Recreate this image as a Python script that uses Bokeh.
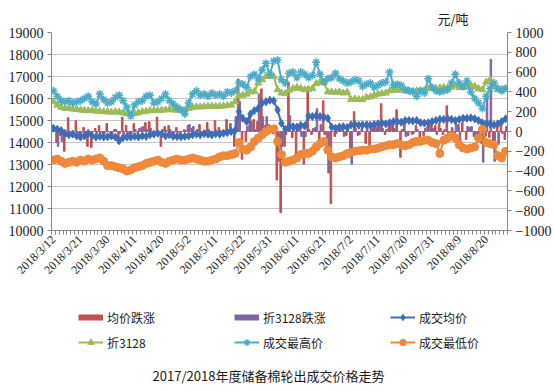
import math
from bokeh.plotting import figure
from bokeh.layouts import column
from bokeh.models import (Range1d, LinearAxis, FixedTicker, Legend, LegendItem,
                          Label, ColumnDataSource)
from bokeh.transform import dodge
from bokeh.embed import file_html
from bokeh.resources import INLINE

# ---------------- data ----------------
dates = [
    "2018/3/12", "2018/3/13", "2018/3/14", "2018/3/15", "2018/3/16", "2018/3/19", "2018/3/20", "2018/3/21",
    "2018/3/22", "2018/3/23", "2018/3/26", "2018/3/27", "2018/3/28", "2018/3/29", "2018/3/30",
    "2018/4/2", "2018/4/3", "2018/4/4", "2018/4/8", "2018/4/9", "2018/4/10", "2018/4/11", "2018/4/12",
    "2018/4/13", "2018/4/16", "2018/4/17", "2018/4/18", "2018/4/19", "2018/4/20", "2018/4/23", "2018/4/24",
    "2018/4/25", "2018/4/26", "2018/4/27", "2018/4/28",
    "2018/5/2", "2018/5/3", "2018/5/4", "2018/5/7", "2018/5/8", "2018/5/9", "2018/5/10", "2018/5/11",
    "2018/5/14", "2018/5/15", "2018/5/16", "2018/5/17", "2018/5/18", "2018/5/21", "2018/5/22", "2018/5/23",
    "2018/5/24", "2018/5/25", "2018/5/28", "2018/5/29", "2018/5/30", "2018/5/31",
    "2018/6/1", "2018/6/4", "2018/6/5", "2018/6/6", "2018/6/7", "2018/6/8", "2018/6/11", "2018/6/12",
    "2018/6/13", "2018/6/14", "2018/6/15", "2018/6/19", "2018/6/20", "2018/6/21", "2018/6/22", "2018/6/25",
    "2018/6/26", "2018/6/27", "2018/6/28", "2018/6/29",
    "2018/7/2", "2018/7/3", "2018/7/4", "2018/7/5", "2018/7/6", "2018/7/9", "2018/7/10", "2018/7/11",
    "2018/7/12", "2018/7/13", "2018/7/16", "2018/7/17", "2018/7/18", "2018/7/19", "2018/7/20", "2018/7/23",
    "2018/7/24", "2018/7/25", "2018/7/26", "2018/7/27", "2018/7/30", "2018/7/31",
    "2018/8/1", "2018/8/2", "2018/8/3", "2018/8/6", "2018/8/7", "2018/8/8", "2018/8/9", "2018/8/10",
    "2018/8/13", "2018/8/14", "2018/8/15", "2018/8/16", "2018/8/17", "2018/8/20", "2018/8/21", "2018/8/22",
    "2018/8/23", "2018/8/24", "2018/8/27",
]

tick_dates = ["2018/3/12", "2018/3/21", "2018/3/30", "2018/4/11", "2018/4/20", "2018/5/2",
              "2018/5/11", "2018/5/22", "2018/5/31", "2018/6/11", "2018/6/21", "2018/7/2",
              "2018/7/11", "2018/7/20", "2018/7/31", "2018/8/9", "2018/8/20"]

left_ticks = [10000, 11000, 12000, 13000, 14000, 15000, 16000, 17000, 18000, 19000]
right_ticks = [-1000, -800, -600, -400, -200, 0, 200, 400, 600, 800, 1000]

# 均价跌涨 (right axis)
avg_chg = [
    0, -110, -40, -200, 140, -30, 110, -60, 40, -150,
    -160, 30, 60, -20, 80, -40, 20, -120, 145, 60,
    -30, 80, -20, 40, 90, 100, -40, 145, -150, 50,
    60, -30, 40, -50, 20, 60, 30, -40, 70, -20,
    90, -60, 110, 40, -30, 120, 80, -150, 530, -280,
    -100, 180, 120, 100, 430, 60, 70, -20, -490, -820,
    -150, 500, -60, -260, 80, -330, 450, -30, 40, -100,
    310, -60, -730, -50, 60, 40, -40, -260, 200, -40,
    30, -120, -160, 60, 40, 280, -30, 60, 70, 220,
    -260, 120, -40, -30, 60, -120, -40, 50, 70, 60,
    80, -30, 260, -40, -60, 70, 90, -80, 40, -50,
    -100, -120, -50, -60, -90, 60, 110, -80,
]

# 折3128跌涨 (right axis)
p3128_chg = [
    0, -150, -100, -50, 0, -30, -20, -20, -30, 0,
    0, -20, -10, -20, 0, -20, 20, -20, -30, -30,
    -20, 20, 30, 50, 20, 30, 0, 0, 20, 10,
    20, -20, -10, 0, 10, 70, 50, 20, 0, 10,
    20, 0, -10, 10, 10, 20, 20, 150, 300, 0,
    50, 100, 20, 380, 150, 150, 20, -20, -300, -150,
    -30, 160, 70, 50, -50, -50, 20, 30, 230, 70,
    -30, -420, 0, -20, 20, -50, 30, -330, 30, -30,
    0, 100, 30, 70, 50, 30, 20, 100, 30, 0,
    20, -50, 0, -20, 20, 0, 30, 70, 30, -30,
    30, 20, -20, 40, 80, -100, 0, 50, 50, -50,
    -100, -310, 350, 730, -300, -130, -20, 50,
]

# 成交均价
avg_price = [
    14650, 14600, 14550, 14420, 14350, 14380, 14300, 14250, 14300, 14420,
    14300, 14250, 14280, 14250, 14260, 14300, 14250, 14080, 14220, 14250,
    14250, 14280, 14250, 14300, 14280, 14350, 14380, 14420, 14380, 14300,
    14350, 14280, 14270, 14260, 14280, 14300, 14350, 14380, 14350, 14400,
    14380, 14350, 14400, 14380, 14420, 14450, 14500, 14550, 15400, 15100,
    14950, 15300, 15450, 15550, 15800, 15850, 15920, 15900, 15480, 14870,
    14600, 14720, 14720, 14700, 14780, 14750, 15200, 15180, 15220, 15180,
    15150, 15100, 14700, 14650, 14700, 14720, 14680, 14800, 14820, 14780,
    14800, 14800, 14780, 14820, 14850, 14880, 14850, 14900, 14950, 14950,
    14920, 15000, 15000, 14980, 15000, 14900, 14880, 14900, 14950, 15000,
    15050, 15050, 15080, 15050, 15000, 15050, 15100, 15100, 15120, 15080,
    15000, 14900, 14850, 14850, 14800, 14850, 14950, 15080,
]

# 折3128
p3128 = [
    15850, 15700, 15600, 15550, 15550, 15520, 15500, 15480, 15450, 15450,
    15450, 15430, 15420, 15400, 15400, 15380, 15400, 15380, 15350, 15320,
    15300, 15320, 15350, 15400, 15420, 15450, 15450, 15450, 15470, 15480,
    15500, 15480, 15470, 15470, 15480, 15550, 15600, 15620, 15620, 15630,
    15650, 15650, 15640, 15650, 15660, 15680, 15700, 15850, 16150, 16150,
    16200, 16300, 16320, 16700, 16850, 17000, 17020, 17000, 16400, 16250,
    16220, 16380, 16450, 16500, 16450, 16400, 16420, 16450, 16680, 16750,
    16720, 16300, 16300, 16280, 16300, 16250, 16280, 15950, 15980, 15950,
    15950, 16050, 16080, 16150, 16200, 16230, 16250, 16350, 16380, 16380,
    16400, 16350, 16350, 16330, 16350, 16350, 16380, 16450, 16480, 16450,
    16480, 16500, 16480, 16520, 16600, 16500, 16500, 16550, 16600, 16550,
    16450, 16400, 16750, 16850, 16550, 16420, 16400, 16450,
]

# 成交最高价
max_price = [
    16350, 16100, 15900, 15850, 15900, 15800, 15850, 15900, 16000, 16100,
    15850, 15750, 16200, 15950, 15800, 15850, 16050, 16150, 15900, 15600,
    15200, 15700, 15850, 15900, 16100, 16150, 15800, 15850, 16000, 16200,
    15900, 15750, 15600, 15500, 15300, 15800, 16200, 16350, 16150, 16200,
    16100, 16250, 16150, 16200, 16100, 16300, 16250, 16350, 16700, 16650,
    16500, 17000, 17100, 16900, 17300, 17600, 17100, 17700, 17750, 16850,
    16700, 17150, 17200, 16950, 17200, 17100, 16950, 17050, 17650, 17100,
    16750, 16900, 16950, 17150, 16900, 16800, 16700, 16750, 16850, 16800,
    16550, 16650, 16700, 16500, 16600, 16700, 16750, 17200, 16600, 16650,
    16600, 16400, 16350, 16300, 16100, 16350, 16250, 16900, 16500, 16350,
    16300, 16350, 16400, 16700, 17100, 16700, 16550, 16800, 16300, 16000,
    15800, 15550, 16100, 16450, 16700, 16450, 16350, 16450,
]

# 成交最低价
min_price = [
    13200, 13250, 13150, 13050, 13100, 13150, 13100, 13200, 13150, 13250,
    13200, 13250, 13300, 13150, 12950, 12950, 12900, 12850, 12800, 12700,
    12750, 12850, 12900, 12950, 13050, 13100, 13150, 13200, 13100, 13050,
    13150, 13200, 13250, 13200, 13200, 13250, 13300, 13250, 13200, 13150,
    13150, 13200, 13250, 13350, 13400, 13400, 13450, 13500, 14000, 13700,
    13650, 13800, 14050, 14200, 14350, 14500, 14600, 14620, 14050, 13450,
    13100, 13150, 13200, 13300, 13450, 13500, 13500, 13600, 13800, 13950,
    14050, 13650, 13350, 13300, 13350, 13400, 13500, 13550, 13600, 13620,
    13650, 13650, 13700, 13700, 13750, 13800, 13850, 13900, 13900, 13950,
    13900, 13850, 13900, 14000, 14050, 14050, 14100, 14100, 14000, 13950,
    13500, 14100, 14200, 14300, 14200, 13900, 13750, 13700, 13750, 13800,
    14200, 14600, 14000, 13950, 13900, 13400, 13300, 13600,
]

legend_labels = ["均价跌涨", "折3128跌涨", "成交均价", "折3128", "成交最高价", "成交最低价"]
title_text = "2017/2018年度储备棉轮出成交价格走势"
unit_text = "元/吨"

# ---------------- style ----------------
C_RED = "#C0504D"
C_PURPLE = "#8064A2"
C_BLUE = "#3E6DB5"
C_GREEN = "#9BBB59"
C_CYAN = "#4BACC6"
C_ORANGE = "#F0883C"
AXIS_C = "#868686"
GRID_C = "#C8C8C8"
TEXT_C = "#1a1a1a"
SERIF = "Liberation Serif"
CJK = "Noto Sans CJK SC"

n = len(dates)
xs = list(range(n))
src = ColumnDataSource(dict(x=xs, avg_chg=avg_chg, p3128_chg=p3128_chg, avg_price=avg_price,
                            p3128=p3128, max_price=max_price, min_price=min_price))

p = figure(width=554, height=298, output_backend="svg", toolbar_location=None,
           x_range=Range1d(-0.5, n - 0.5), y_range=Range1d(10000, 19000),
           min_border_left=51, min_border_right=47, min_border_top=32, min_border_bottom=68)
p.outline_line_color = None
p.extra_y_ranges = {"chg": Range1d(-1000, 1000)}

p.title.text = unit_text
p.title.align = "right"
p.title.offset = 39
p.title.text_font = CJK
p.title.text_font_size = "13px"
p.title.text_font_style = "normal"
p.title.text_color = TEXT_C

# axes
yax = p.yaxis[0]
yax.ticker = FixedTicker(ticks=left_ticks)
xax = p.xaxis[0]
label_pos = [dates.index(d) for d in tick_dates]
xax.ticker = FixedTicker(ticks=label_pos, minor_ticks=[i - 0.5 for i in range(n + 1)])
xax.major_label_overrides = {i: dates[i] for i in label_pos}
xax.major_label_orientation = math.pi / 4
xax.major_tick_out = 0
xax.major_tick_in = 0
xax.minor_tick_out = 4
xax.minor_tick_in = 0
xax.minor_tick_line_color = AXIS_C

rax = LinearAxis(y_range_name="chg", ticker=FixedTicker(ticks=right_ticks))
p.add_layout(rax, "right")

for ax in (yax, rax):
    ax.major_tick_out = 4
    ax.major_tick_in = 0
    ax.minor_tick_line_color = None
    ax.major_label_text_font_size = "14px"
    ax.major_label_standoff = 4
for ax in (yax, rax, xax):
    ax.axis_line_color = AXIS_C
    ax.major_tick_line_color = AXIS_C
    ax.major_label_text_font = SERIF
    ax.major_label_text_color = TEXT_C
xax.major_label_text_font_size = "12px"
xax.major_label_standoff = 3

p.xgrid.visible = False
p.ygrid.grid_line_color = GRID_C

# bars
p.vbar(x=dodge("x", -0.2, range=p.x_range), top="avg_chg", bottom=0, width=0.4,
       source=src, y_range_name="chg", fill_color=C_RED, line_color=C_RED)
p.vbar(x=dodge("x", 0.2, range=p.x_range), top="p3128_chg", bottom=0, width=0.4,
       source=src, y_range_name="chg", fill_color=C_PURPLE, line_color=C_PURPLE)

# lines
p.line("x", "avg_price", source=src, line_color=C_BLUE, line_width=2)
p.scatter("x", "avg_price", source=src, marker="diamond", size=8, fill_color=C_BLUE, line_color=C_BLUE)
p.line("x", "p3128", source=src, line_color=C_GREEN, line_width=2)
p.scatter("x", "p3128", source=src, marker="triangle", size=7, fill_color=C_GREEN, line_color=C_GREEN)
p.line("x", "max_price", source=src, line_color=C_CYAN, line_width=2)
p.scatter("x", "max_price", source=src, marker="asterisk", size=8, line_color=C_CYAN, line_width=1.5)
p.line("x", "min_price", source=src, line_color=C_ORANGE, line_width=2)
p.scatter("x", "min_price", source=src, marker="circle", size=8, fill_color=C_ORANGE, line_color=C_ORANGE)

# ---------------- legend + caption panel ----------------
# The same series are drawn here outside this panel's visible ranges, only to feed the legend swatches.
q = figure(width=554, height=93, output_backend="svg", toolbar_location=None,
           x_range=Range1d(-3, -2), y_range=Range1d(-3, -2), x_axis_type=None, y_axis_type=None,
           min_border=0)
q.outline_line_color = None
q.xgrid.visible = False
q.ygrid.visible = False

r_proxy = q.line("x", "avg_chg", source=src, line_color=C_RED, line_width=6)
pu_proxy = q.line("x", "p3128_chg", source=src, line_color=C_PURPLE, line_width=6)
b_l = q.line("x", "avg_price", source=src, line_color=C_BLUE, line_width=2)
b_m = q.scatter("x", "avg_price", source=src, marker="diamond", fill_color=C_BLUE, line_color=C_BLUE)
g_l = q.line("x", "p3128", source=src, line_color=C_GREEN, line_width=2)
g_m = q.scatter("x", "p3128", source=src, marker="triangle", fill_color=C_GREEN, line_color=C_GREEN)
c_l = q.line("x", "max_price", source=src, line_color=C_CYAN, line_width=2)
c_m = q.scatter("x", "max_price", source=src, marker="asterisk", line_color=C_CYAN, line_width=1.5)
o_l = q.line("x", "min_price", source=src, line_color=C_ORANGE, line_width=2)
o_m = q.scatter("x", "min_price", source=src, marker="circle", fill_color=C_ORANGE, line_color=C_ORANGE)

legend = Legend(items=[
    LegendItem(label=legend_labels[0], renderers=[r_proxy]),
    LegendItem(label=legend_labels[1], renderers=[pu_proxy]),
    LegendItem(label=legend_labels[2], renderers=[b_l, b_m]),
    LegendItem(label=legend_labels[3], renderers=[g_l, g_m]),
    LegendItem(label=legend_labels[4], renderers=[c_l, c_m]),
    LegendItem(label=legend_labels[5], renderers=[o_l, o_m]),
], orientation="horizontal", ncols=3, location=(27, 40))
legend.glyph_width = 25
legend.glyph_height = 16
legend.label_width = 120
legend.label_height = 18
legend.label_standoff = 4
legend.spacing = 7
legend.padding = 0
legend.margin = 0
legend.border_line_color = None
legend.background_fill_alpha = 0
legend.label_text_font = CJK
legend.label_text_font_size = "12px"
legend.label_text_color = TEXT_C
q.add_layout(legend, "center")

cap = Label(x=217, y=16, x_units="screen", y_units="screen", text=title_text,
            text_align="center", text_baseline="middle", text_font=CJK,
            text_font_size="13px", text_color=TEXT_C)
q.add_layout(cap)

layout = column(p, q, spacing=0)
open("out.html", "w").write(file_html(layout, INLINE))
